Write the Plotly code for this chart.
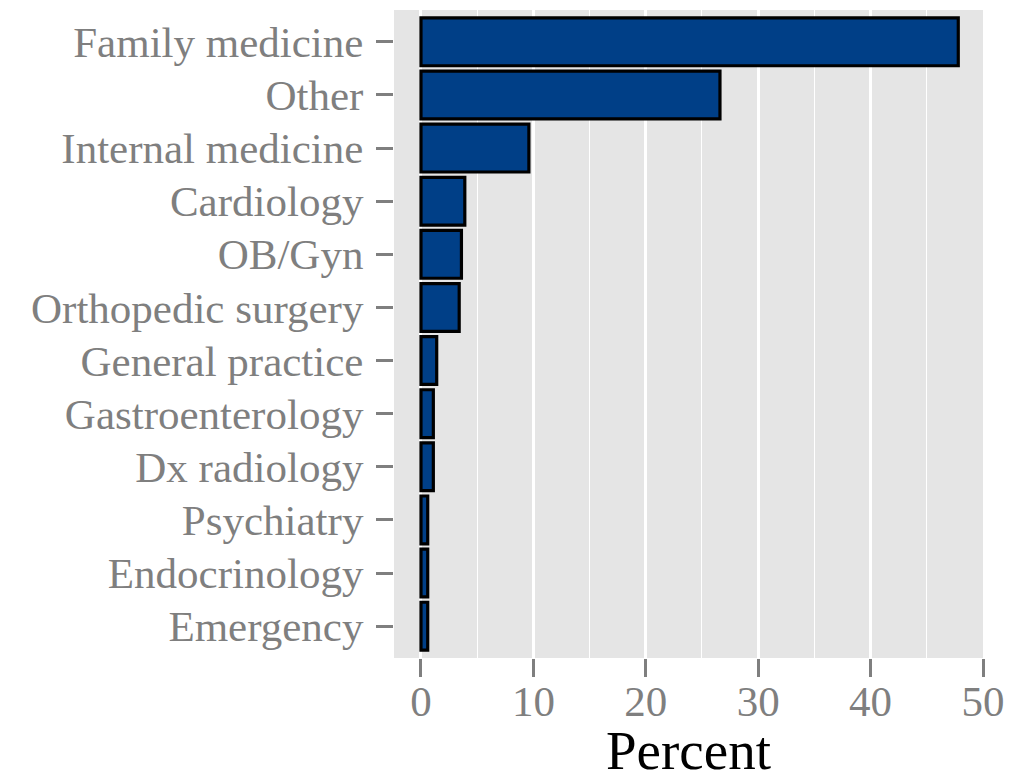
import plotly.graph_objects as go

specialties = [
    "Family medicine", "Other", "Internal medicine", "Cardiology", "OB/Gyn",
    "Orthopedic surgery", "General practice", "Gastroenterology", "Dx radiology",
    "Psychiatry", "Endocrinology", "Emergency",
]
percent = [47.8, 26.6, 9.6, 3.9, 3.6, 3.4, 1.4, 1.1, 1.1, 0.6, 0.6, 0.6]
x_ticks = [0, 10, 20, 30, 40, 50]
x_title = "Percent"

FONT = "Liberation Serif"
GREY = "#7f7f7f"

fig = go.Figure(
    go.Bar(
        x=percent,
        y=specialties,
        orientation="h",
        width=0.9,
        marker=dict(color="#003f87", line=dict(color="black", width=3.2)),
    )
)

# page body has an 8px margin; figure offset accordingly
fig.update_layout(
    width=1007,
    height=767,
    margin=dict(l=386, r=32, t=2, b=117),
    paper_bgcolor="white",
    plot_bgcolor="#e5e5e5",
    showlegend=False,
    font=dict(family=FONT, size=43, color=GREY),
)

fig.add_annotation(
    text=x_title,
    xref="paper", yref="paper",
    x=0.5, y=0,
    xanchor="center", yanchor="middle",
    yshift=-92,
    showarrow=False,
    font=dict(family=FONT, size=55, color="black"),
)

fig.update_xaxes(
    automargin=False,
    range=[-2.4, 50.0],
    tickvals=x_ticks,
    ticktext=[str(v) for v in x_ticks],
    showgrid=True,
    gridcolor="white",
    gridwidth=2.5,
    minor=dict(dtick=5, tick0=0, showgrid=True, gridcolor="white", gridwidth=1.2),
    zeroline=False,
    ticks="outside",
    ticklen=18,
    tickwidth=3,
    tickcolor=GREY,
    tickfont=dict(family=FONT, size=43, color=GREY),
    ticklabelstandoff=-13,
    showline=False,
)

fig.update_yaxes(
    automargin=False,
    type="category",
    categoryorder="array",
    categoryarray=specialties,
    range=[11.6, -0.6],
    showgrid=False,
    zeroline=False,
    ticks="outside",
    ticklen=17,
    tickwidth=3,
    tickcolor=GREY,
    tickfont=dict(family=FONT, size=43, color=GREY),
    ticklabelstandoff=4,
    showline=False,
)

fig.write_html("out.html")
